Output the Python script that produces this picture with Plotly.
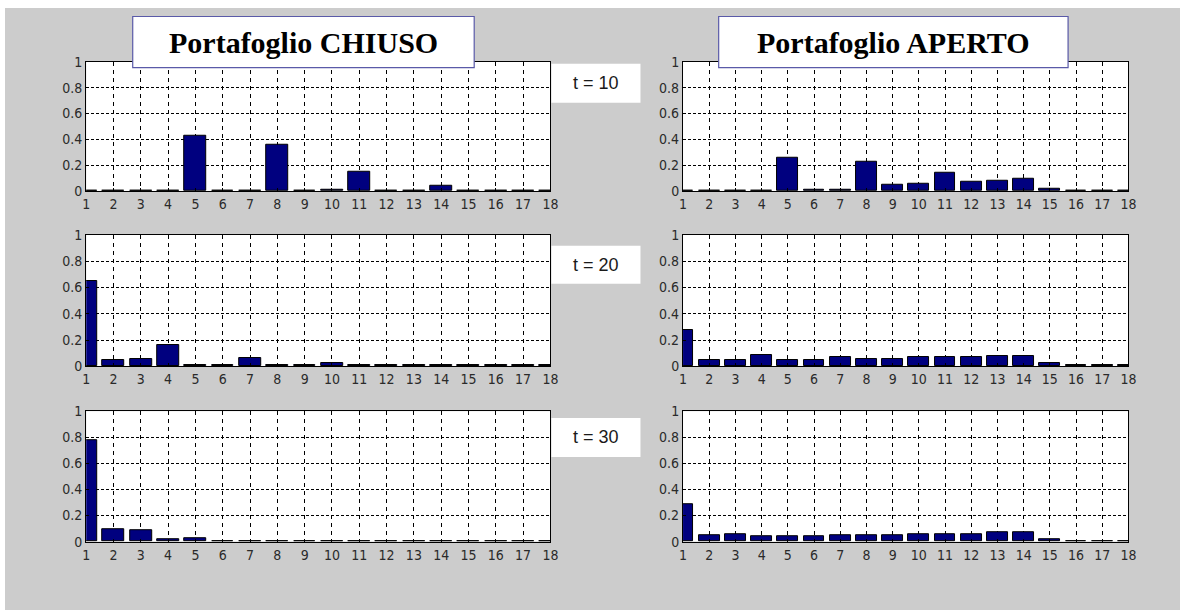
import plotly.graph_objects as go

# ---------------- data ----------------
states = list(range(1, 19))
x_tick_labels = [str(s) for s in states]
y_tick_vals = [0, 0.2, 0.4, 0.6, 0.8, 1]
y_tick_labels = ["0", "0.2", "0.4", "0.6", "0.8", "1"]

closed_t10 = [0, 0, 0, 0, 0.43, 0, 0, 0.36, 0, 0.01, 0.15, 0.005, 0.005, 0.045, 0.005, 0.005, 0.005, 0.005]
closed_t20 = [0.65, 0.05, 0.055, 0.16, 0.01, 0.01, 0.065, 0.01, 0.01, 0.025, 0.008, 0.008, 0.008, 0.008, 0.008, 0.008, 0.008, 0.008]
closed_t30 = [0.78, 0.095, 0.085, 0.02, 0.03, 0.005, 0.005, 0.005, 0.005, 0.005, 0.005, 0.005, 0.005, 0.005, 0.005, 0.005, 0.005, 0.003]

open_t10 = [0, 0, 0, 0, 0.26, 0.015, 0.015, 0.23, 0.05, 0.06, 0.14, 0.07, 0.08, 0.10, 0.02, 0.005, 0.005, 0.005]
open_t20 = [0.28, 0.05, 0.05, 0.09, 0.05, 0.05, 0.07, 0.06, 0.06, 0.07, 0.07, 0.07, 0.08, 0.08, 0.025, 0.01, 0.01, 0.01]
open_t30 = [0.29, 0.05, 0.06, 0.04, 0.04, 0.04, 0.05, 0.05, 0.05, 0.06, 0.06, 0.06, 0.07, 0.07, 0.02, 0.005, 0.005, 0.005]

panel_titles = ["Portafoglio CHIUSO", "Portafoglio APERTO"]
time_labels = ["t = 10", "t = 20", "t = 30"]

# ---------------- layout helpers ----------------
# The grey figure sits at (5, 8) inside a white 1180x610 page.
OFF_X, OFF_Y = 5, 8
W, H = 1180 - OFF_X, 610 - OFF_Y
def px(x):
    return (x - OFF_X) / W
def py(y):
    return 1 - (y - OFF_Y) / H

col_px = [(83, 552), (686, 1136)]
row_px = [(55, 188), (233, 368), (414, 548)]

series = [[closed_t10, open_t10], [closed_t20, open_t20], [closed_t30, open_t30]]

tick_font = dict(family="Liberation Sans Narrow, DejaVu Sans Condensed, Arial Narrow, sans-serif",
                 size=14, color="#2a2a2a")

fig = go.Figure()
layout_axes = {}
n = 0
for r in range(3):
    for c in range(2):
        n += 1
        xa = "x" if n == 1 else f"x{n}"
        ya = "y" if n == 1 else f"y{n}"
        fig.add_trace(go.Bar(
            x=states, y=series[r][c], xaxis=xa, yaxis=ya, width=0.8,
            marker=dict(color="#00007f", line=dict(color="black", width=1)),
            showlegend=False, hoverinfo="x+y"))
        common = dict(showgrid=True, gridcolor="black", gridwidth=1,
                      showline=True, mirror=True, linecolor="black", linewidth=1.2,
                      zeroline=False, ticks="inside", ticklen=3, tickcolor="black",
                      tickfont=tick_font, fixedrange=True)
        layout_axes["xaxis" if n == 1 else f"xaxis{n}"] = dict(
            domain=[px(col_px[c][0]), px(col_px[c][1])], anchor=ya, range=[1, 18],
            tickmode="array", tickvals=states, ticktext=x_tick_labels,
            griddash="4px,4px", **common)
        layout_axes["yaxis" if n == 1 else f"yaxis{n}"] = dict(
            domain=[py(row_px[r][1]), py(row_px[r][0])], anchor=xa, range=[0, 1],
            tickmode="array", tickvals=y_tick_vals, ticktext=y_tick_labels,
            griddash="3px,2px", **common)

shapes = []
annotations = []

title_boxes = [(130, 475), (722, 1075)]
for (x0, x1), t in zip(title_boxes, panel_titles):
    shapes.append(dict(type="rect", xref="paper", yref="paper", x0=px(x0), x1=px(x1),
                       y0=py(61), y1=py(8.5), fillcolor="white",
                       line=dict(color="#5a5aa8", width=1.2), layer="above"))
    annotations.append(dict(text=f"<b>{t}</b>", xref="paper", yref="paper",
                            x=px((x0 + x1) / 2), y=py(35), showarrow=False,
                            xanchor="center", yanchor="middle",
                            font=dict(family="Liberation Serif, Times New Roman, serif",
                                      size=30, color="black")))

t_boxes = [(57, 97), (244, 283), (421, 461)]
for (y0, y1), t in zip(t_boxes, time_labels):
    shapes.append(dict(type="rect", xref="paper", yref="paper", x0=px(553), x1=px(643),
                       y0=py(y1), y1=py(y0), fillcolor="white", line=dict(width=0),
                       layer="above"))
    annotations.append(dict(text=t, xref="paper", yref="paper",
                            x=px(598), y=py((y0 + y1) / 2), showarrow=False,
                            xanchor="center", yanchor="middle",
                            font=dict(family="Liberation Sans, Arial, sans-serif",
                                      size=18, color="#1a1a1a")))

fig.update_layout(
    width=W, height=H, margin=dict(l=0, r=0, t=0, b=0),
    paper_bgcolor="#cccccc", plot_bgcolor="white",
    bargap=0, shapes=shapes, annotations=annotations, showlegend=False,
    **layout_axes)

fig.write_html(
    "out.html", config={"displayModeBar": False},
    post_script=("document.body.style.margin='0';document.body.style.overflow='hidden';"
                 "document.body.style.background='white';"
                 "var d=document.getElementById('{plot_id}');"
                 "d.style.position='absolute';d.style.left='%dpx';d.style.top='%dpx';" % (OFF_X, OFF_Y)))
